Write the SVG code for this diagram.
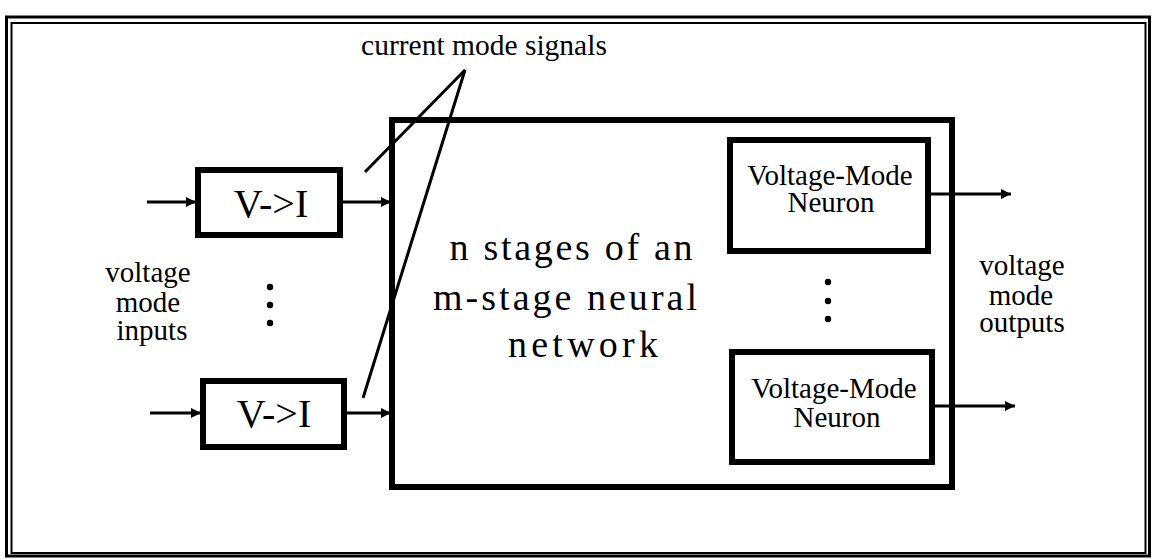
<svg xmlns="http://www.w3.org/2000/svg" width="1155" height="559" viewBox="0 0 1155 559">
<style>
.box{fill:none;stroke:#000;stroke-width:6}
.lbl{font-family:"Liberation Serif","Times New Roman",serif;fill:#000;text-anchor:middle}
.wire{stroke:#000;stroke-width:3;fill:none}
.ptr{stroke:#000;stroke-width:3;fill:none}
</style>
<defs>
<marker id="ah" viewBox="0 0 10 10" refX="10" refY="5" markerWidth="10" markerHeight="10" markerUnits="userSpaceOnUse" orient="auto">
<path d="M0,0 L10,5 L0,10 Z" fill="#000"/>
</marker>
</defs>
<rect width="1155" height="559" fill="#fff"/>
<g id="frame">
<rect x="6.5" y="17" width="1143" height="539" fill="none" stroke="#000" stroke-width="3"/>
<rect x="11.5" y="23" width="1134" height="530" fill="none" stroke="#000" stroke-width="2"/>
</g>
<g id="main">
<rect class="box" x="392" y="120" width="560" height="367" stroke-width="5"/>
<text class="lbl" x="571" y="260" font-size="38" textLength="243" lengthAdjust="spacing">n stages of an</text>
<text class="lbl" x="565" y="310" font-size="38" textLength="264" lengthAdjust="spacing">m-stage  neural</text>
<text class="lbl" x="583" y="357" font-size="38" textLength="150" lengthAdjust="spacing">network</text>
</g>
<g id="vi1">
<rect class="box" x="198" y="170" width="142" height="65"/>
<text class="lbl" x="271" y="217" font-size="40">V-&gt;I</text>
</g>
<g id="vi2">
<rect class="box" x="203" y="381" width="141" height="66"/>
<text class="lbl" x="274" y="427" font-size="40">V-&gt;I</text>
</g>
<g id="neuron1">
<rect class="box" x="730" y="140" width="198" height="111"/>
<text class="lbl" x="830" y="185" font-size="29">Voltage-Mode</text>
<text class="lbl" x="831" y="212" font-size="29">Neuron</text>
</g>
<g id="neuron2">
<rect class="box" x="732" y="352" width="200" height="110"/>
<text class="lbl" x="834" y="398" font-size="29">Voltage-Mode</text>
<text class="lbl" x="837" y="427" font-size="29">Neuron</text>
</g>
<g id="labels">
<text class="lbl" x="484" y="55" font-size="29.5">current mode signals</text>
<text class="lbl" x="148" y="282" font-size="29">voltage</text>
<text class="lbl" x="148" y="312" font-size="29">mode</text>
<text class="lbl" x="152" y="340" font-size="29">inputs</text>
<text class="lbl" x="1022" y="275" font-size="29">voltage</text>
<text class="lbl" x="1021" y="305" font-size="29">mode</text>
<text class="lbl" x="1022" y="332" font-size="29">outputs</text>
<circle cx="270" cy="287" r="3.2"/>
<circle cx="270" cy="305" r="3.2"/>
<circle cx="270" cy="323" r="3.2"/>
<circle cx="828" cy="282" r="3.2"/>
<circle cx="828" cy="301" r="3.2"/>
<circle cx="828" cy="319" r="3.2"/>
</g>
<g id="connectors">
<line class="wire" x1="147" y1="202" x2="196" y2="202" marker-end="url(#ah)"/>
<line class="wire" x1="150" y1="413" x2="201" y2="413" marker-end="url(#ah)"/>
<line class="wire" x1="343" y1="202" x2="391" y2="202" marker-end="url(#ah)"/>
<line class="wire" x1="347" y1="413" x2="391" y2="413" marker-end="url(#ah)"/>
<line class="wire" x1="931" y1="194" x2="1011" y2="194" marker-end="url(#ah)"/>
<line class="wire" x1="935" y1="406" x2="1015" y2="406" marker-end="url(#ah)"/>
<polyline class="ptr" points="365,172 465,70 363,398"/>
</g>
</svg>
